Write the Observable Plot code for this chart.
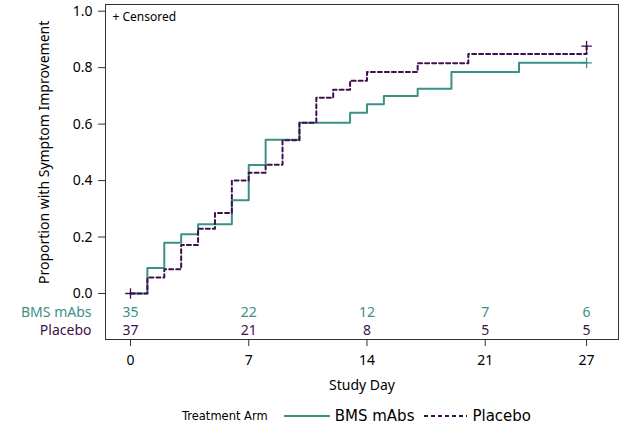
<!DOCTYPE html>
<html>
<head>
<meta charset="utf-8">
<script src="https://cdn.jsdelivr.net/npm/d3@7"></script>
<script src="https://cdn.jsdelivr.net/npm/@observablehq/plot@0.6"></script>
<style>
  body { margin: 0; background: #fff; font-family: "Noto Sans", "Open Sans", sans-serif; }
  #wrap { width: 628px; }
  .legend { display: flex; align-items: center; justify-content: center; height: 32px;
            padding-left: 105px; padding-right: 10px; box-sizing: border-box; width: 628px; font-family: "DejaVu Sans", sans-serif; }
  .legend .ttl { font-size: 11.5px; margin-right: 16px; }
  .legend .lab { font-size: 15px; margin-left: 5px; margin-right: 10px; }
  .legend svg { display: block; }
</style>
</head>
<body>
<div id="wrap"></div>
<script>
// --- data ---
const bmsDays = [0, 1, 2, 3, 4, 6, 7, 8, 10, 13, 14, 15, 17, 19, 23, 27];
const bmsProp = [0, 0.09, 0.18, 0.21, 0.245, 0.33, 0.455, 0.545, 0.605, 0.64, 0.67, 0.70, 0.725, 0.785, 0.817, 0.817];
const plaDays = [0, 1, 2, 3, 4, 5, 6, 7, 8, 9, 10, 11, 12, 13, 14, 17, 20, 27];
const plaProp = [0, 0.057, 0.086, 0.172, 0.229, 0.285, 0.40, 0.428, 0.456, 0.543, 0.605, 0.693, 0.722, 0.754, 0.785, 0.816, 0.848, 0.876];
const censorBms = [{day: 27, p: 0.817}];
const censorPla = [{day: 0, p: 0}, {day: 27, p: 0.876}];
const riskDays = [0, 7, 14, 21, 27];
const riskBms = [35, 22, 12, 7, 6];
const riskPla = [37, 21, 8, 5, 5];
const xTicks = [0, 7, 14, 21, 27];
const yTicks = [0, 0.2, 0.4, 0.6, 0.8, 1.0];
const seriesNames = ["BMS mAbs", "Placebo"];
const colBms = "#3a9185";
const colPla = "#3f0f50";

const bms = bmsDays.map((d, i) => ({day: d, p: bmsProp[i]}));
const pla = plaDays.map((d, i) => ({day: d, p: plaProp[i]}));
const rB = riskDays.map((d, i) => ({day: d, n: riskBms[i]}));
const rP = riskDays.map((d, i) => ({day: d, n: riskPla[i]}));

const chart = Plot.plot({
  width: 628,
  height: 400,
  marginLeft: 105,
  marginRight: 10,
  marginTop: 4,
  marginBottom: 61,
  style: {fontFamily: "Noto Sans, Open Sans, sans-serif", fontSize: "14px", color: "#000"},
  x: {domain: [-1.48, 28.89]},
  y: {domain: [-0.163, 1.0237]},
  marks: [
    Plot.frame({stroke: "#333", strokeWidth: 1}),
    Plot.axisY({ticks: yTicks, tickFormat: d3.format(".1f"), tickSize: 7, tickPadding: 6, label: null, fontSize: 14, stroke: "#333"}),
    Plot.axisX({ticks: xTicks, tickFormat: d => d, tickSize: 7, tickPadding: 9, label: null, fontSize: 14, stroke: "#333"}),
    Plot.text(["Proportion with Symptom Improvement"], {frameAnchor: "left", y: () => 0.5, rotate: -90, dx: -61, textAnchor: "middle", lineAnchor: "middle", fontSize: 14}),
    Plot.text(["Study Day"], {frameAnchor: "bottom", dy: 46, lineAnchor: "middle", fontSize: 14}),
    Plot.text(["+ Censored"], {frameAnchor: "top-left", dx: 7, dy: 13, lineAnchor: "middle", fontSize: 12, textAnchor: "start"}),
    Plot.line(bms, {x: "day", y: "p", curve: "step-after", stroke: colBms, strokeWidth: 2}),
    Plot.line(pla, {x: "day", y: "p", curve: "step-after", stroke: colPla, strokeWidth: 2, strokeDasharray: "4,3"}),
    Plot.dot(censorBms, {x: "day", y: "p", symbol: "plus", r: 3.5, stroke: colBms, strokeWidth: 1.3}),
    Plot.dot(censorPla, {x: "day", y: "p", symbol: "plus", r: 3.5, stroke: colPla, strokeWidth: 1.3}),
    Plot.text(rB, {x: "day", text: "n", frameAnchor: "bottom", dy: -27, lineAnchor: "middle", fill: colBms, fontSize: 14}),
    Plot.text(rP, {x: "day", text: "n", frameAnchor: "bottom", dy: -9, lineAnchor: "middle", fill: colPla, fontSize: 14}),
    Plot.text([seriesNames[0]], {frameAnchor: "bottom-left", dx: -14, dy: -27, lineAnchor: "middle", textAnchor: "end", fill: colBms, fontSize: 14}),
    Plot.text([seriesNames[1]], {frameAnchor: "bottom-left", dx: -14, dy: -9, lineAnchor: "middle", textAnchor: "end", fill: colPla, fontSize: 14})
  ]
});
document.getElementById("wrap").appendChild(chart);

const leg = document.createElement("div");
leg.className = "legend";
leg.innerHTML = `
  <span class="ttl">Treatment Arm</span>
  <svg width="46" height="10"><line x1="0" x2="46" y1="5" y2="5" stroke="${colBms}" stroke-width="2"/></svg>
  <span class="lab">${seriesNames[0]}</span>
  <svg width="43" height="10"><line x1="0" x2="43" y1="5" y2="5" stroke="${colPla}" stroke-width="2" stroke-dasharray="4,3"/></svg>
  <span class="lab">${seriesNames[1]}</span>`;
document.getElementById("wrap").appendChild(leg);
</script>
</body>
</html>
